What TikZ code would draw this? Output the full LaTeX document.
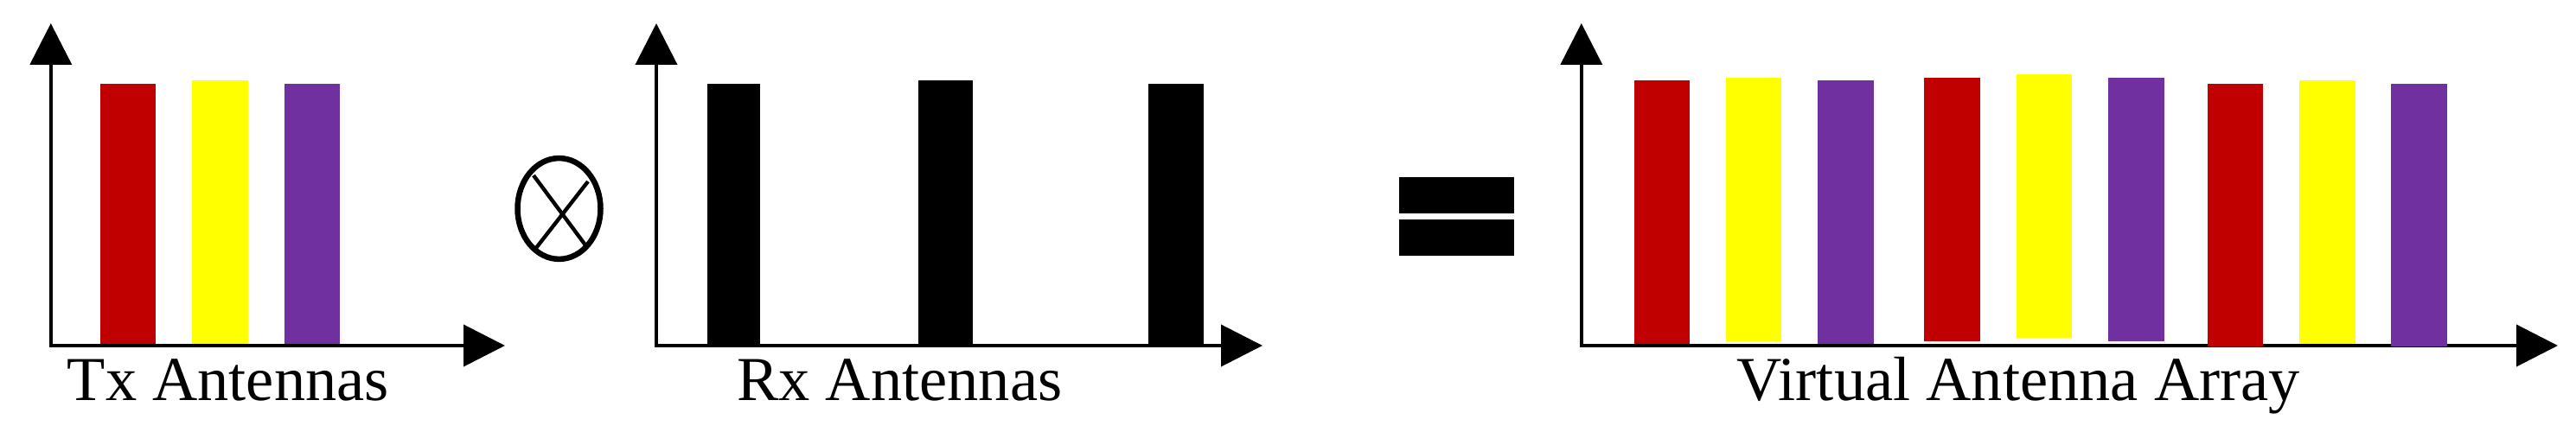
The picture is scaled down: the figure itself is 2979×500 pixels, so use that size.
\documentclass[tikz,border=0pt]{standalone}
\usepackage{fontspec}
\setmainfont{Liberation Serif}
\usetikzlibrary{arrows.meta}
\definecolor{barred}{RGB}{192,0,0}
\definecolor{baryellow}{RGB}{255,255,0}
\definecolor{barpurple}{RGB}{112,48,160}
\tikzset{
  axis/.style={line width=1pt, {Triangle[length=12pt,width=12pt]}-{Triangle[length=12pt,width=12pt]}},
  bar/.style={fill=#1, draw=none},
  label/.style={inner sep=0pt, anchor=base west, font=\fontsize{18.1pt}{20pt}\selectfont},
}
\begin{document}
\begin{tikzpicture}[x=0.25pt, y=-0.25pt]
\useasboundingbox (0,0) rectangle (2979,500);
% ---------- Tx ----------
\coordinate (t0) at (58.8,400);
\coordinate (ty) at (58.8,27);
\coordinate (tx) at (584,400);
\draw[axis] (ty) -- (t0) -- (tx);
\fill[bar=barred]    (116,97) rectangle (180,398);
\fill[bar=baryellow] (222,93) rectangle (287,398);
\fill[bar=barpurple] (329,97) rectangle (393,398);
\node[label] (txl) at (77,464) {Tx Antennas};
% ---------- otimes ----------
\draw[line width=1.625pt] (646.5,241.5) ellipse [x radius=12pt, y radius=14.6pt];
\draw[line width=1.1pt] (617,203) -- (678,285);
\draw[line width=1.1pt] (680,210) -- (620,287);
% ---------- Rx ----------
\coordinate (r0) at (759,400);
\coordinate (ry) at (759,27);
\coordinate (rx) at (1460,400);
\draw[axis] (ry) -- (r0) -- (rx);
\fill[bar=black] (817.6,97) rectangle (879.4,398);
\fill[bar=black] (1061.8,93) rectangle (1124.8,398);
\fill[bar=black] (1327.9,97) rectangle (1392,398);
\node[label] (rxl) at (851.5,464) {Rx Antennas};
% ---------- equals ----------
\fill (1618,205) rectangle (1751,247);
\fill (1618,254) rectangle (1751,296);
% ---------- Virtual ----------
\coordinate (v0) at (1828.8,400);
\coordinate (vy) at (1828.8,27);
\coordinate (vx) at (2958,400);
\draw[axis] (vy) -- (v0) -- (vx);
\fill[bar=barred]    (1890,93) rectangle (1954,398);
\fill[bar=baryellow] (1996,90) rectangle (2060,395);
\fill[bar=barpurple] (2102,93) rectangle (2167,398);
\fill[bar=barred]    (2225,90) rectangle (2290,394.7);
\fill[bar=baryellow] (2332,86) rectangle (2395.7,391);
\fill[bar=barpurple] (2438,90) rectangle (2503,394.7);
\fill[bar=barred]    (2553,97) rectangle (2617,401);
\fill[bar=baryellow] (2659,93) rectangle (2724,398);
\fill[bar=barpurple] (2765,97) rectangle (2830,401);
\node[label] (vl) at (2008,464) {Virtual Antenna Array};
\end{tikzpicture}
\end{document}
